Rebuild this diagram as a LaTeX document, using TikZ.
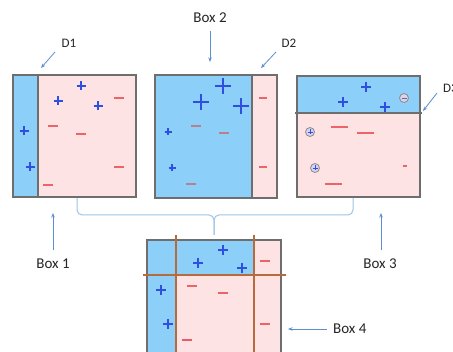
\documentclass[tikz,border=0pt]{standalone}
\usepackage{fontspec}
\setmainfont{Carlito}
\usetikzlibrary{arrows.meta}
\definecolor{skyfill}{HTML}{8CCFF9}
\definecolor{pinkfill}{HTML}{FDE3E3}
\definecolor{frame}{HTML}{6E6E6E}
\definecolor{cutline}{HTML}{B86A3C}
\definecolor{plusblue}{HTML}{2E4FE0}
\definecolor{minusred}{HTML}{EC6468}
\definecolor{minusmauve}{HTML}{B8808E}
\definecolor{arrowblue}{HTML}{5B8FCF}
\definecolor{bracecol}{HTML}{9EC4E8}
\definecolor{circfill}{HTML}{D9D2F2}
\newcommand\plusat[3]{\draw[plusline] (#1-#3,#2) -- (#1+#3,#2) (#1,#2-#3) -- (#1,#2+#3);}
\newcommand\minusat[4][minusline]{\draw[#1] (#2-#4,#3) -- (#2+#4,#3);}
\newcommand\circplus[2]{\draw[circmark] (#1,#2) circle (4.5);
  \draw[plusblue,line width=0.8] (#1-2.5,#2) -- (#1+2.5,#2) (#1,#2-2.5) -- (#1,#2+2.5);}
\newcommand\circminus[2]{\draw[circmark] (#1,#2) circle (4.5);
  \draw[frame,line width=0.8] (#1-2.5,#2) -- (#1+2.5,#2);}
\begin{document}
\begin{tikzpicture}[x=1pt,y=-1pt,
  boxframe/.style={draw=frame,line width=1.6},
  divline/.style={frame,line width=1.4},
  orangeline/.style={cutline,line width=1.5},
  plusline/.style={plusblue,line width=1.1},
  minusline/.style={minusred,line width=1.1},
  mauveline/.style={minusmauve,line width=1.1},
  thickminus/.style={minusred!90!purple,line width=2.2},
  circmark/.style={draw=frame!80,fill=circfill,line width=0.8},
  pointer/.style={arrowblue,line width=0.8,-{Stealth[length=4.5pt,width=3.5pt]}},
  bigtext/.style={font=\fontsize{15}{18}\selectfont,text=black!85,inner sep=0pt},
  smalltext/.style={font=\fontsize{13}{16}\selectfont,text=black!85,inner sep=0pt}]
\useasboundingbox (0,0) rectangle (453,352);
\clip (0,0) rectangle (453,352);
\fill[white] (0,0) rectangle (453,352);

% ---------- Box 1 ----------
\fill[skyfill] (13,75) rectangle (38,197);
\fill[pinkfill] (38,75) rectangle (136,197);
\draw[divline] (38,75) -- (38,197);
\draw[boxframe] (13,75) rectangle (136,197);
\plusat{81}{86}{4.5}\plusat{58}{101}{4.5}\plusat{98}{106}{4.5}
\plusat{24}{131}{4.5}\plusat{30}{167}{4.5}
\minusat{119}{98}{5}\minusat{53}{126}{5}\minusat{81}{134}{5}
\minusat{119}{167}{5}\minusat{48}{185}{5}

% ---------- Box 2 ----------
\fill[skyfill] (155,75) rectangle (252,198);
\fill[pinkfill] (252,75) rectangle (277,198);
\draw[divline] (252,75) -- (252,198);
\draw[boxframe] (155,75) rectangle (277,198);
\plusat{223}{86}{8}\plusat{201}{102}{8}\plusat{241}{106}{8}
\plusat{168}{132}{3.5}\plusat{172}{168}{3.5}
\minusat[mauveline]{196}{126}{5}\minusat[mauveline]{224}{133}{5}\minusat[mauveline]{191}{184}{5}
\minusat{263}{98}{4}\minusat{263}{167}{4}

% ---------- Box 3 ----------
\fill[skyfill] (297,76) rectangle (420,113);
\fill[pinkfill] (297,113) rectangle (420,197);
\draw[divline] (295,113) -- (422,113);
\draw[boxframe] (297,76) rectangle (420,197);
\plusat{366}{87}{5}\plusat{343}{102}{5}\plusat{385}{107}{5}
\circminus{404}{98}
\circplus{310}{132}\circplus{315}{168}
\minusat{339}{127}{8.5}\minusat{365}{133}{8.5}\minusat{333}{184}{8.5}
\minusat{405}{166}{2}

% ---------- Box 4 ----------
\fill[skyfill] (147,240) rectangle (176,360);
\fill[skyfill] (176,240) rectangle (254,275);
\fill[pinkfill] (176,275) rectangle (254,360);
\fill[pinkfill] (254,240) rectangle (281,360);
\draw[boxframe] (147,240) rectangle (281,360);
\draw[orangeline] (176,235) -- (176,360);
\draw[orangeline] (254,235) -- (254,360);
\draw[orangeline] (143,275) -- (286,275);
\plusat{223}{250}{5}\plusat{198}{263}{5}\plusat{242}{268}{5}
\plusat{161}{290}{5}\plusat{168}{324}{5}
\minusat{265}{261}{5}\minusat{192}{286}{5}\minusat{223}{293}{5}
\minusat{265}{324}{5}
\minusat[thickminus]{187}{340}{5}

% ---------- brace ----------
\draw[bracecol,line width=1,rounded corners=5] (77,198) |- (214,215) -- (214,235);
\draw[bracecol,line width=1,rounded corners=5] (353,198) |- (214,215) -- (214,235);

% ---------- labels and pointers ----------
\node[bigtext] (b1) at (53,264) {Box 1};
\node[bigtext] (b2) at (210,18) {Box 2};
\node[bigtext] (b3) at (380,264) {Box 3};
\node[bigtext,anchor=west] (b4) at (333,329) {Box 4};
\node[smalltext] (d1) at (69,43) {D1};
\node[smalltext] (d2) at (289,43) {D2};
\node[smalltext,anchor=west] (d3) at (443,88) {D3};

\coordinate (b1s) at (53,250);  \coordinate (b1e) at (53,213);
\coordinate (b2s) at (210,31);  \coordinate (b2e) at (210,62);
\coordinate (b3s) at (381,250); \coordinate (b3e) at (381,213);
\coordinate (b4s) at (327,329); \coordinate (b4e) at (288,329);
\coordinate (d1s) at (55,52);   \coordinate (d1e) at (41,68);
\coordinate (d2s) at (276,52);  \coordinate (d2e) at (261,68);
\coordinate (d3s) at (437,93);  \coordinate (d3e) at (423,111);
\draw[pointer] (b1s) -- (b1e);
\draw[pointer] (b2s) -- (b2e);
\draw[pointer] (b3s) -- (b3e);
\draw[pointer] (b4s) -- (b4e);
\draw[pointer] (d1s) -- (d1e);
\draw[pointer] (d2s) -- (d2e);
\draw[pointer] (d3s) -- (d3e);
\end{tikzpicture}
\end{document}
